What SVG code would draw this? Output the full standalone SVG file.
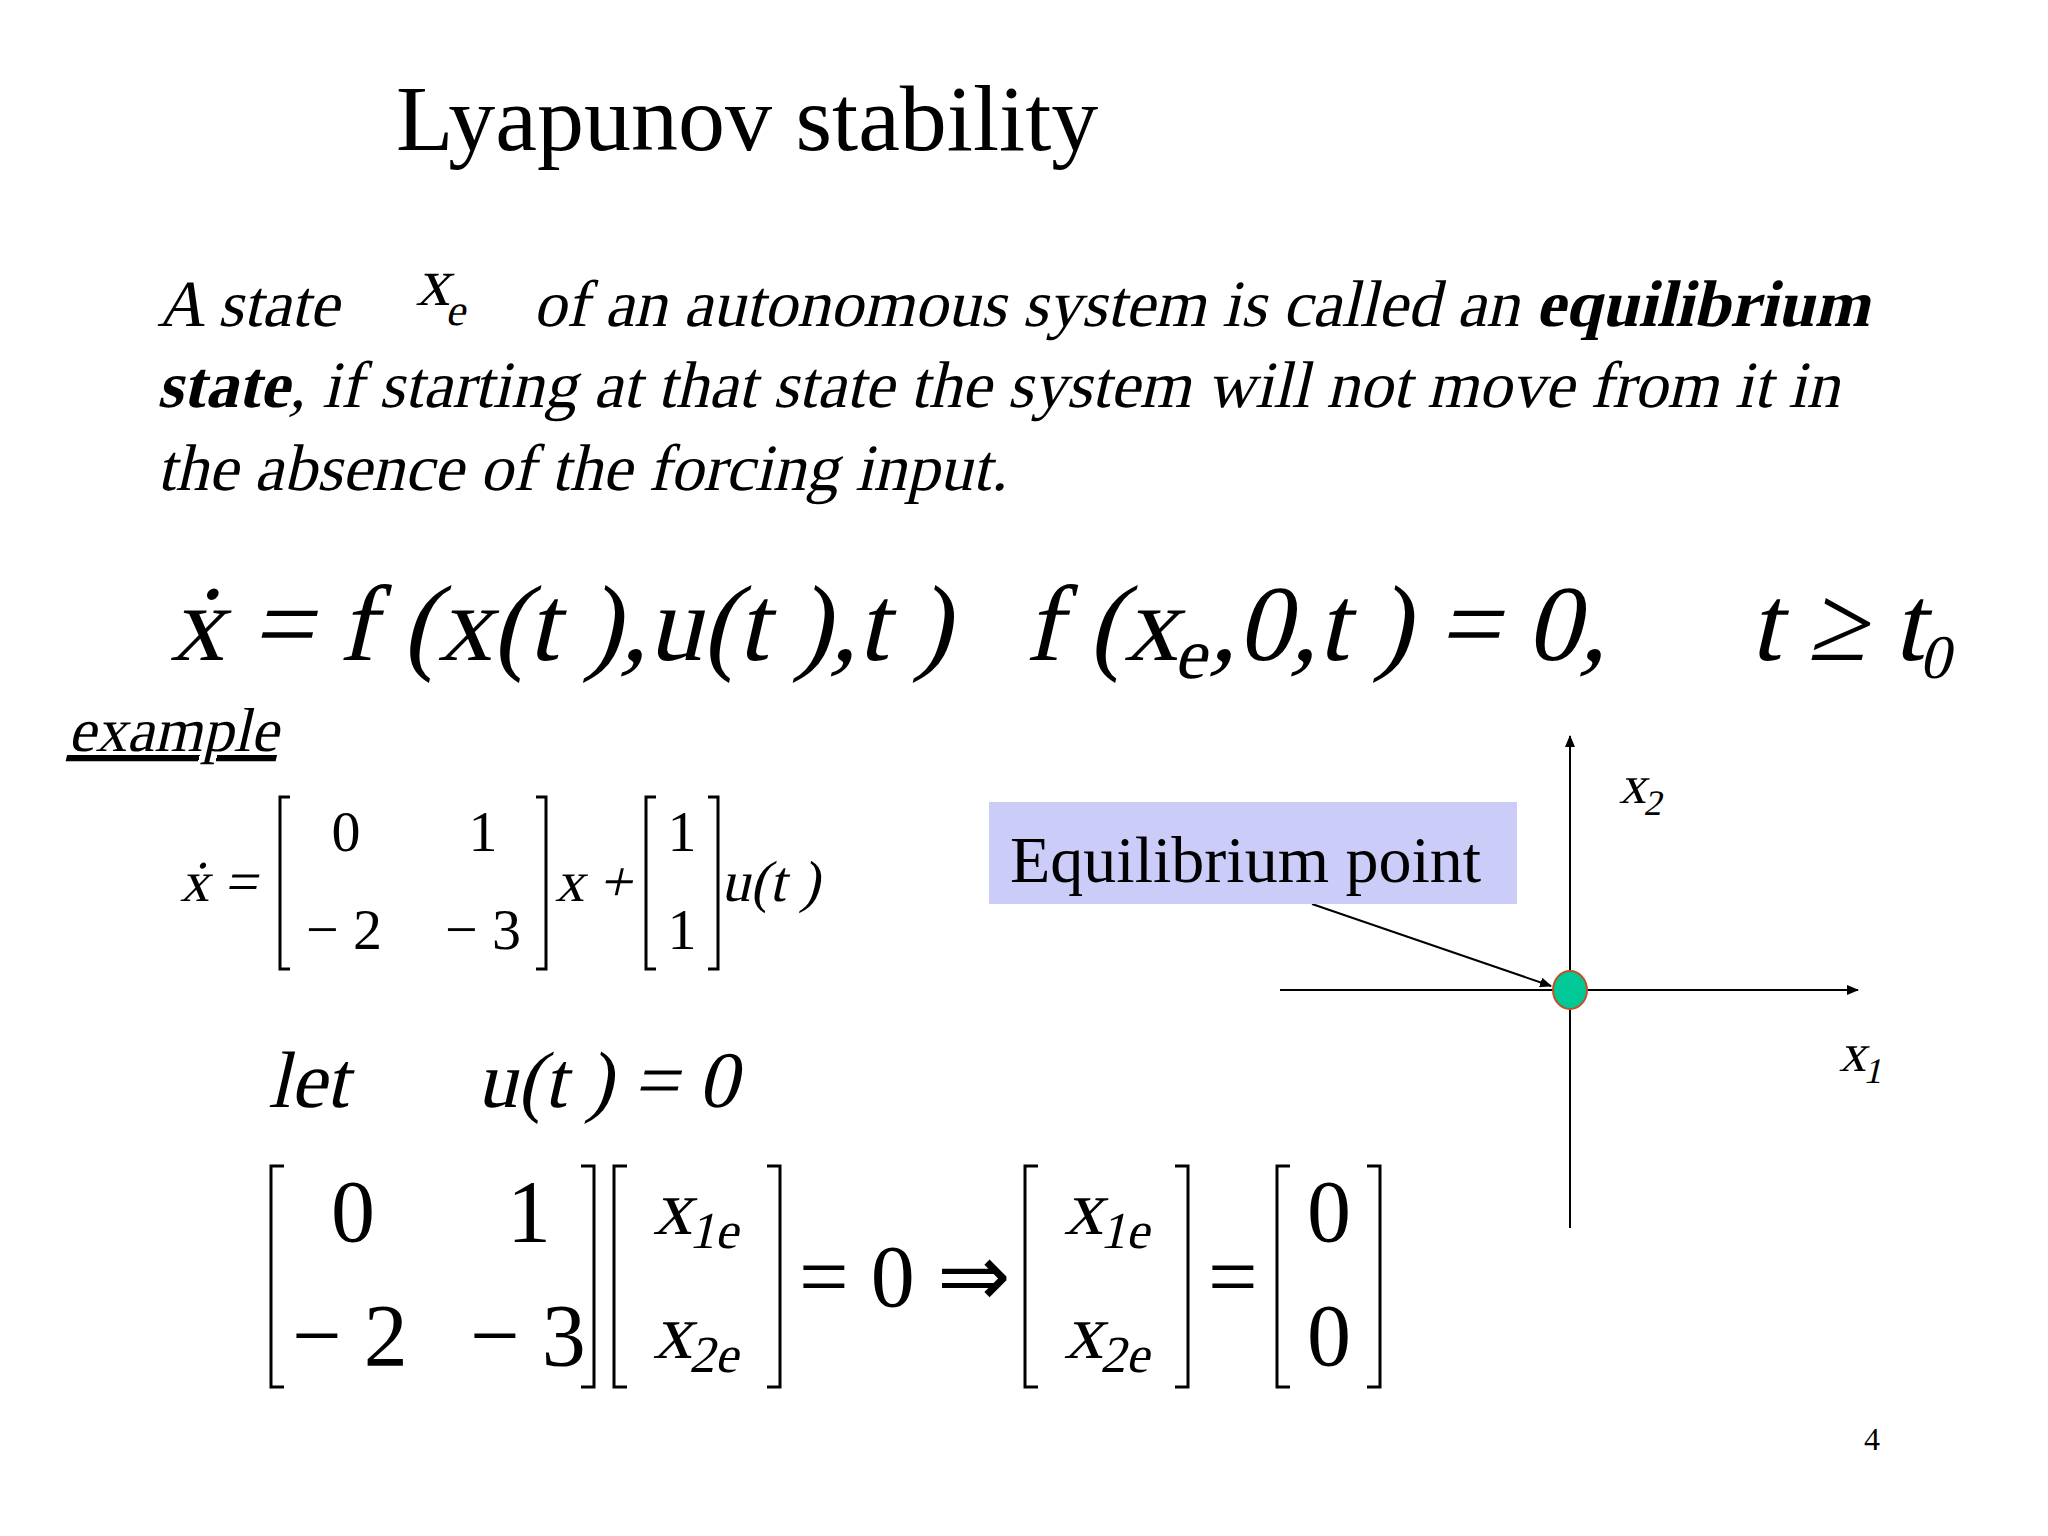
<svg xmlns="http://www.w3.org/2000/svg" width="2048" height="1536" viewBox="0 0 2048 1536">
<defs>
<style>
text{font-family:"Liberation Serif","Times New Roman",serif;fill:#000}
.br{fill:none;stroke:#000;stroke-width:3}
.ax{stroke:#000;stroke-width:2;fill:none}
</style>
<marker id="ah" markerWidth="12" markerHeight="10" refX="11" refY="5" orient="auto" markerUnits="userSpaceOnUse"><path d="M0,0 L12,5 L0,10 Z" fill="#000"/></marker>
</defs>
<rect width="2048" height="1536" fill="#fff"/>
<g id="title"><text x="396" y="150" font-size="94">Lyapunov stability</text></g>
<g id="definition">
<text transform="translate(157,326) skewX(-13)" font-size="66">A state <tspan x="254" y="-21" font-size="68">x</tspan><tspan font-size="44" dy="20">e</tspan><tspan x="376" y="0">of an autonomous system is called an </tspan><tspan font-weight="bold">equilibrium</tspan></text>
<text transform="translate(157,407) skewX(-13)" font-size="66"><tspan font-weight="bold">state</tspan>, if starting at that state the system will not move from it in</text>
<text transform="translate(157,490) skewX(-13)" font-size="66">the absence of the forcing input.</text>
</g>
<g id="equations">
<text transform="translate(170,660) skewX(-13)" font-size="108">ẋ = f (x(t ),u(t ),t )</text>
<text transform="translate(1025,660) skewX(-13)" font-size="108">f (x<tspan font-size="72" dy="18">e</tspan><tspan dy="-18">,0,t ) = 0,</tspan></text>
<text transform="translate(1750,660) skewX(-13)" font-size="108">t ≥ t<tspan font-size="62" dy="18">0</tspan></text>
</g>
<g id="example">
<text transform="translate(68,751) skewX(-13)" font-size="62" text-decoration="underline">example</text>
<text transform="translate(180,901) skewX(-13)" font-size="58">ẋ =</text>
<path class="br" d="M290,797 H280 V969 H290 M536,797 H546 V969 H536"/>
<text x="346" y="851" font-size="58" text-anchor="middle">0</text>
<text x="483" y="851" font-size="58" text-anchor="middle">1</text>
<text x="344" y="949" font-size="58" text-anchor="middle">− 2</text>
<text x="483" y="949" font-size="58" text-anchor="middle">− 3</text>
<text transform="translate(555,901) skewX(-13)" font-size="58">x +</text>
<path class="br" d="M656,797 H646 V969 H656 M708,797 H718 V969 H708"/>
<text x="682" y="851" font-size="58" text-anchor="middle">1</text>
<text x="682" y="949" font-size="58" text-anchor="middle">1</text>
<text transform="translate(721,901) skewX(-13)" font-size="58">u(t )</text>
<text transform="translate(268,1107) skewX(-13)" font-size="80">let</text>
<text transform="translate(477,1107) skewX(-13)" font-size="80">u(t ) = 0</text>
<path class="br" d="M284,1166 H271 V1387 H284 M581,1166 H594 V1387 H581"/>
<text x="353" y="1241" font-size="88" text-anchor="middle">0</text>
<text x="529" y="1241" font-size="88" text-anchor="middle">1</text>
<text x="350" y="1365" font-size="88" text-anchor="middle">− 2</text>
<text x="528" y="1365" font-size="88" text-anchor="middle">− 3</text>
<path class="br" d="M627,1166 H614 V1387 H627 M767,1166 H780 V1387 H767"/>
<text transform="translate(653,1234) skewX(-13)" font-size="78">x<tspan font-size="52" dy="14">1e</tspan></text>
<text transform="translate(653,1358) skewX(-13)" font-size="78">x<tspan font-size="52" dy="14">2e</tspan></text>
<text x="799" y="1306" font-size="88">= 0 ⇒</text>
<path class="br" d="M1038,1166 H1025 V1387 H1038 M1175,1166 H1188 V1387 H1175"/>
<text transform="translate(1064,1234) skewX(-13)" font-size="78">x<tspan font-size="52" dy="14">1e</tspan></text>
<text transform="translate(1064,1358) skewX(-13)" font-size="78">x<tspan font-size="52" dy="14">2e</tspan></text>
<text x="1208" y="1306" font-size="88">=</text>
<path class="br" d="M1290,1166 H1277 V1387 H1290 M1367,1166 H1380 V1387 H1367"/>
<text x="1329" y="1241" font-size="88" text-anchor="middle">0</text>
<text x="1329" y="1365" font-size="88" text-anchor="middle">0</text>
</g>
<g id="connectors">
<line class="ax" x1="1570" y1="1228" x2="1570" y2="736" marker-end="url(#ah)"/>
<line class="ax" x1="1280" y1="990" x2="1858" y2="990" marker-end="url(#ah)"/>
<line class="ax" x1="1312" y1="904" x2="1551" y2="986" marker-end="url(#ah)"/>
</g>
<g id="axis-labels">
<text transform="translate(1619,803) skewX(-13)" font-size="54">x<tspan font-size="36" dy="12">2</tspan></text>
<text transform="translate(1839,1071) skewX(-13)" font-size="54">x<tspan font-size="36" dy="12">1</tspan></text>
</g>
<g id="equilibrium-point"><ellipse cx="1570" cy="990" rx="17" ry="19" fill="#00c896" stroke="#c0502a" stroke-width="2"/></g>
<g id="label-box">
<rect x="989" y="802" width="528" height="102" fill="#ccccf8"/>
<text x="1010" y="882" font-size="66">Equilibrium point</text>
</g>
<g id="page"><text x="1864" y="1450" font-size="32">4</text></g>
</svg>
